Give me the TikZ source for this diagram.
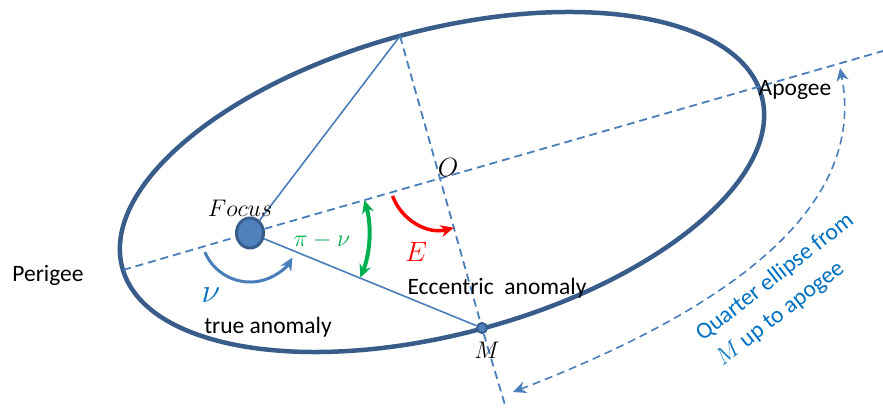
\RequirePackage{fix-cm}
\documentclass[tikz,border=0pt]{standalone}
\usepackage{amsmath}
\usepackage{fontspec}
\setmainfont{Carlito}
\usetikzlibrary{arrows.meta,shapes.geometric}

\definecolor{orbit}{HTML}{385D8A}
\definecolor{axis}{HTML}{4A7EBB}
\definecolor{focusfill}{HTML}{4F81BD}
\definecolor{labelblue}{HTML}{0070C0}
\definecolor{anglegreen}{HTML}{00B050}

\begin{document}
\begin{tikzpicture}[x=1pt, y=1pt,
    >={Stealth[length=13pt, width=12pt]},
    axisline/.style={axis, line width=1.8pt, dash pattern=on 8pt off 5pt},
    ray/.style={axis, line width=1.6pt},
    txt/.style={font=\fontsize{23.5}{32}\selectfont},
    mathlbl/.style={font=\fontsize{24}{28}\selectfont}]
    \useasboundingbox (0,0) rectangle (883,410);
    % the orbit
    \draw[orbit, line width=4.5pt, rotate around={15:(442,228)}] (442,228) ellipse (331 and 152);
    \coordinate (O) at (440.5,231.5);
    \coordinate (T) at (400,374);
    \coordinate (Per) at (123,140);
    \coordinate (Far) at (883,359);
    \coordinate (Bot) at (505,5);
    \node[ellipse, draw=orbit, fill=focusfill, line width=3pt, minimum width=27pt, minimum height=30pt, inner sep=0pt] (F) at (250,177) {};
    \node[circle, draw=orbit, fill=focusfill, line width=2pt, minimum size=10pt, inner sep=0pt] (M) at (482,82) {};
    % axes and radii
    \draw[axisline] (Per) -- (F) -- (Far);
    \draw[axisline] (T) -- (M) -- (Bot);
    \draw[ray] (F) -- (T);
    \draw[ray] (F) -- (M);
    % angles
    \draw[axis, line width=3pt, ->] ([shift={(203:49)}]F.center) arc (203:330:49);
    \draw[anglegreen, line width=4pt, <->] ([shift={(16:119)}]F.center) arc (16:-22:119);
    \draw[red, line width=3.5pt, ->] ([shift={(200:51)}]O) arc (200:285:51);
    % quarter ellipse
    \coordinate (qa) at (513,18);
    \coordinate (qb) at (840,342);
    \draw[axisline, line width=1.6pt, <->] (qa) .. controls (700,90) and (870,190) .. (qb);
    % labels
    \node[mathlbl] (focuslbl) at (240,202) {$Focus$};
    \node[mathlbl, scale=1.1] (olbl) at (448,243) {$O$};
    \node[mathlbl] (mlbl) at (487,60) {$M$};
    \node[txt] (perigee) at (48,135) {Perigee};
    \node[txt] (apogee) at (795,320) {Apogee};
    \node[txt] (trueano) at (268,83) {true anomaly};
    \node[txt] (eccano) at (497,122) {Eccentric\ \ anomaly};
    \node[labelblue, font=\fontsize{34}{40}\selectfont] (nu) at (211,115) {$\nu$};
    \node[anglegreen, mathlbl] (pinu) at (322,170) {$\pi-\nu$};
    \node[red, font=\fontsize{28}{32}\selectfont] (elbl) at (416,158) {$E$};
    \node[txt, labelblue, rotate=38, align=left] (quarter) at (785,120) {Quarter ellipse from\\$M$ up to apogee};
\end{tikzpicture}
\end{document}
